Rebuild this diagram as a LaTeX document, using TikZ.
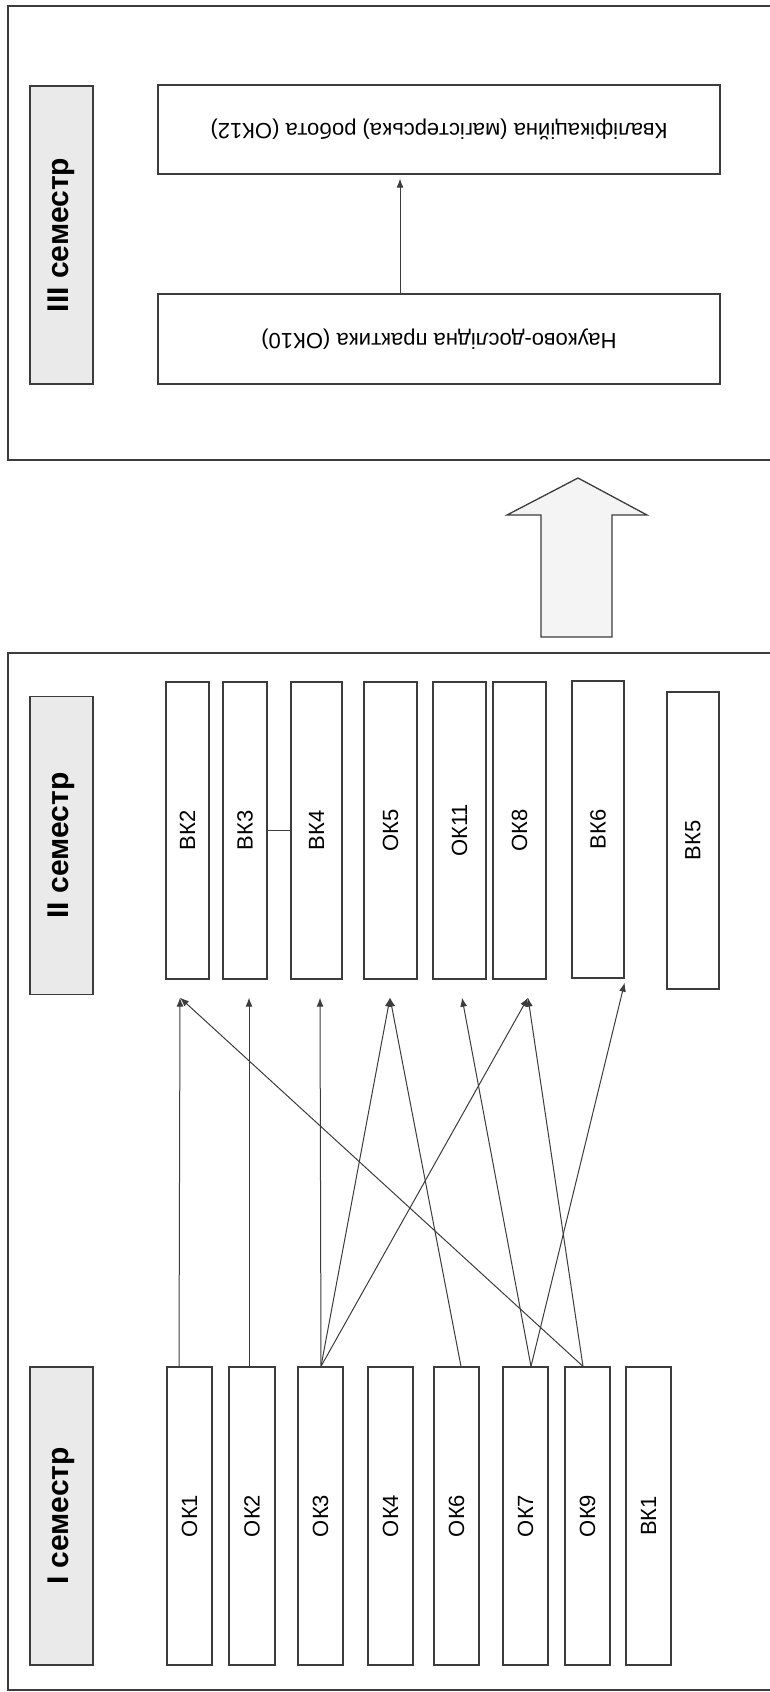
\documentclass[tikz,border=0pt]{standalone}
\usepackage{fontspec}
\setmainfont{Liberation Sans}
\usepackage{graphicx}
\usetikzlibrary{arrows.meta,calc}
\definecolor{ln}{RGB}{60,60,60}
\definecolor{lbl}{RGB}{234,234,234}
\definecolor{barrow}{RGB}{244,244,244}
\tikzset{
  panel/.style={draw=ln,line width=1.8pt},
  cbox/.style={draw=ln,line width=1.3pt,fill=white,inner sep=0pt,font=\fontsize{22}{26}\selectfont},
  semlabel/.style={draw=ln,line width=1.3pt,fill=lbl,inner sep=0pt,minimum width=63pt,minimum height=298pt,font=\fontsize{30}{34}\selectfont\bfseries},
  conn/.style={draw=ln,line width=1pt,-{Latex[length=9pt,width=7pt]}},
  plain/.style={draw=ln,line width=1pt},
  blockarrow/.style={draw=ln,line width=1.3pt,fill=barrow,line join=miter}
}
\begin{document}
\begin{tikzpicture}[x=1pt,y=-1pt]
\useasboundingbox (0,0) rectangle (769,1692);
% panels
\draw[panel] (800,6) -- (8,6) -- (8,460) -- (800,460);
\draw[panel] (800,653) -- (8,653) -- (8,1690) -- (800,1690);
% semester labels
\node[semlabel] (L3) at (61.5,235) {\rotatebox{90}{III семестр}};
\node[semlabel] (L2) at (61.5,845.5) {\rotatebox{90}{II семестр}};
\node[semlabel] (L1) at (61.5,1516) {\rotatebox{90}{I семестр}};
% third semester
\node[cbox,minimum width=562pt,minimum height=89pt] (kval) at (439,129.5) {\rotatebox{180}{Кваліфікаційна (магістерська) робота (ОК12)}};
\node[cbox,minimum width=562pt,minimum height=90pt] (nauk) at (439,339) {\rotatebox{180}{Науково-дослідна практика (ОК10)}};
\coordinate (kvalin) at ([shift={(-39pt,-4pt)}]kval.south);
\draw[conn] ([xshift=-39pt]nauk.north) -- (kvalin);
% block arrow
\draw[blockarrow] (578,478) -- (647,515) -- (612,515) -- (612,637) -- (541,637) -- (541,515) -- (507,515) -- cycle;
% second semester
\node[cbox,minimum width=43pt,minimum height=297pt] (BK2) at (187.5,830.5) {\rotatebox{90}{ВК2}};
\node[cbox,minimum width=44pt,minimum height=297pt] (BK3) at (245,830.5) {\rotatebox{90}{ВК3}};
\node[cbox,minimum width=51pt,minimum height=297pt] (BK4) at (316.5,830.5) {\rotatebox{90}{ВК4}};
\node[cbox,minimum width=53pt,minimum height=297pt] (OK5) at (390.5,830.5) {\rotatebox{90}{ОК5}};
\node[cbox,minimum width=53pt,minimum height=297pt] (OK11) at (459.5,830.5) {\rotatebox{90}{ОК11}};
\node[cbox,minimum width=53pt,minimum height=297pt] (OK8) at (519.5,830.5) {\rotatebox{90}{ОК8}};
\node[cbox,minimum width=52pt,minimum height=297pt] (BK6) at (598,829.5) {\rotatebox{90}{ВК6}};
\node[cbox,minimum width=52pt,minimum height=297pt] (BK5) at (693,840.5) {\rotatebox{90}{ВК5}};
\draw[plain] (BK3.east) -- (BK4.west);
% first semester
\node[cbox,minimum width=45pt,minimum height=298pt] (OK1) at (189.5,1516) {\rotatebox{90}{ОК1}};
\node[cbox,minimum width=46pt,minimum height=298pt] (OK2) at (252,1516) {\rotatebox{90}{ОК2}};
\node[cbox,minimum width=45pt,minimum height=298pt] (OK3) at (320.5,1516) {\rotatebox{90}{ОК3}};
\node[cbox,minimum width=45pt,minimum height=298pt] (OK4) at (390.5,1516) {\rotatebox{90}{ОК4}};
\node[cbox,minimum width=45pt,minimum height=298pt] (OK6) at (456.5,1516) {\rotatebox{90}{ОК6}};
\node[cbox,minimum width=45pt,minimum height=298pt] (OK7) at (525.5,1516) {\rotatebox{90}{ОК7}};
\node[cbox,minimum width=45pt,minimum height=298pt] (OK9) at (587.5,1516) {\rotatebox{90}{ОК9}};
\node[cbox,minimum width=45pt,minimum height=298pt] (BK1) at (648.5,1516) {\rotatebox{90}{ВК1}};
% connector ends
\coordinate (tBK2) at ([shift={(-7.5pt,-18pt)}]BK2.south);
\coordinate (tBK3) at ([shift={(4pt,-18pt)}]BK3.south);
\coordinate (tBK4) at ([shift={(3.5pt,-18pt)}]BK4.south);
\coordinate (tOK5) at ([shift={(-0.5pt,-18pt)}]OK5.south);
\coordinate (tOK11) at ([shift={(2.5pt,-18pt)}]OK11.south);
\coordinate (tOK8) at ([shift={(8.5pt,-18pt)}]OK8.south);
\coordinate (tBK6) at ([yshift=-4pt]BK6.south east);
\coordinate (sOK1) at ([xshift=-10.5pt]OK1.north);
\coordinate (sOK2) at ([xshift=-3pt]OK2.north);
\coordinate (sOK3) at ([xshift=0.5pt]OK3.north);
\coordinate (sOK6) at ([xshift=4.5pt]OK6.north);
\coordinate (sOK7) at ([xshift=5.5pt]OK7.north);
\coordinate (sOK9) at ([xshift=-4.5pt]OK9.north);
% connectors
\draw[conn] (sOK1) -- (tBK2);
\draw[conn] (sOK2) -- (tBK3);
\draw[conn] (sOK3) -- (tBK4);
\draw[conn] (sOK3) -- (tOK5);
\draw[conn] (sOK3) -- (tOK8);
\draw[conn] (sOK6) -- (tOK5);
\draw[conn] (sOK7) -- (tOK11);
\draw[conn] (sOK7) -- (tBK6);
\draw[conn] (sOK9) -- (tBK2);
\draw[conn] (sOK9) -- (tOK8);
\end{tikzpicture}
\end{document}
